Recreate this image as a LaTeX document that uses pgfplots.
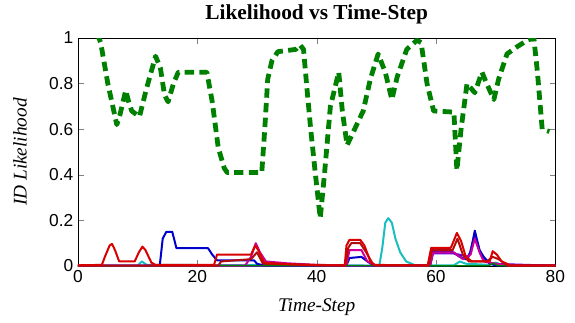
\documentclass[border=0pt]{standalone}
\usepackage{pgfplots}
\pgfplotsset{compat=1.18}
\usepackage{fontspec}
\setmainfont{Liberation Serif}
\newfontfamily\tickfont{Liberation Sans}
\definecolor{mgreen}{rgb}{0,0.5,0}
\definecolor{mred}{rgb}{0.85,0,0}
\definecolor{dred}{rgb}{0.7,0.05,0.05}
\definecolor{mblue}{rgb}{0,0,0.8}
\definecolor{mcyan}{rgb}{0.1,0.75,0.75}
\definecolor{mmag}{rgb}{0.8,0,0.6}
\definecolor{mpurp}{rgb}{0.45,0,0.85}
\begin{document}
\begin{tikzpicture}
\begin{axis}[
  name=ax,
  scale only axis,
  width=358pt, height=171pt,
  xmin=0, xmax=80, ymin=0, ymax=1,
  xtick={0,20,40,60,80},
  ytick={0,0.2,0.4,0.6,0.8,1},
  tick align=inside,
  minor tick num=0,
  /pgf/number format/assume math mode=true,
  ticklabel style={font=\tickfont\fontsize{13}{13}\selectfont},
  title={Likelihood vs Time-Step},
  title style={font=\bfseries\fontsize{16}{16}\selectfont, yshift=1pt},
  xlabel={Time-Step},
  ylabel={ID Likelihood},
  label style={font=\itshape\fontsize{14.5}{14.5}\selectfont},
  xlabel style={yshift=-5pt},
  ylabel style={yshift=10pt},
  every axis plot/.append style={line width=1.5pt, line join=round},
  axis line style={line width=0.6pt},
]
\addplot[mgreen, line width=3.6pt, dash pattern=on 7pt off 4pt] coordinates {
(3.2,1.02)(3.8,0.98)(5,0.8)(6.5,0.62)(7,0.66)(8,0.77)(8.5,0.72)(9,0.68)(10.3,0.655)(11.5,0.78)(13,0.92)(13.8,0.87)(14.5,0.75)(15.1,0.72)(16,0.8)(16.8,0.85)(21.6,0.85)(22.5,0.72)(23.5,0.52)(24.5,0.43)(25,0.41)(30.8,0.41)(31.3,0.6)(31.8,0.82)(32.5,0.9)(33.5,0.94)(36.5,0.95)(37.2,0.97)(37.8,0.95)(38.3,0.8)(39,0.6)(39.8,0.4)(40.6,0.21)(41.3,0.4)(42.3,0.7)(43.7,0.85)(44.3,0.68)(45.1,0.53)(46,0.58)(47.8,0.68)(49,0.82)(50.3,0.93)(51.5,0.85)(52.6,0.73)(53.5,0.83)(55.1,0.95)(56.8,0.99)(57.5,0.98)(58.5,0.8)(59.6,0.68)(63,0.675)(63.5,0.42)(64.2,0.6)(65.2,0.8)(66.5,0.76)(67.7,0.85)(68.5,0.8)(69.7,0.73)(70.5,0.82)(71.9,0.93)(73.5,0.96)(75.3,0.99)(76.4,1.0)(77,0.85)(77.8,0.6)(79,0.59)
};
\addplot[mcyan] coordinates {
(0,0.002)(10,0.002)(10.7,0.02)(11.5,0.005)(50.5,0.002)(51,0.08)(51.5,0.19)(52,0.21)(52.6,0.19)(53.2,0.12)(54,0.06)(55,0.02)(56.5,0.003)(63,0.003)(64,0.02)(65,0.01)(69,0.005)(70,0.015)(71,0.005)(80,0.002)
};
\addplot[mpurp] coordinates {
(0,0.001)(59,0.001)(59.5,0.055)(63,0.055)(65.5,0.04)(66.5,0.14)(67.5,0.05)(69,0.01)(80,0.001)
};
\addplot[mblue] coordinates {
(0,0.002)(13.7,0.002)(14.2,0.12)(14.8,0.15)(15.8,0.15)(16.5,0.078)(21.8,0.078)(22.5,0.05)(23.3,0.025)(29.5,0.025)(30,0.01)(31,0.003)(45,0.003)(45.5,0.035)(47.5,0.04)(48.5,0.02)(49.5,0.003)(59,0.003)(59.5,0.065)(62.5,0.065)(64,0.04)(65,0.03)(65.8,0.06)(66.5,0.155)(67.3,0.07)(68,0.04)(69,0.01)(70,0.003)(80,0.003)
};
\addplot[mmag] coordinates {
(0,0.002)(28,0.002)(29,0.04)(29.8,0.1)(30.5,0.06)(31.5,0.02)(35,0.012)(40,0.005)(45,0.003)(45.5,0.07)(47.5,0.07)(48.5,0.02)(50,0.002)(59,0.002)(59.5,0.06)(63,0.06)(64.5,0.03)(65.8,0.05)(66.5,0.12)(67.3,0.06)(68,0.02)(70,0.01)(72,0.002)(80,0.002)
};
\addplot[mgreen, line width=1pt] coordinates {
(0,0.001)(68.8,0.001)(69.6,0.012)(70.4,0.001)(80,0.001)
};
\addplot[dred] coordinates {
(0,0.002)(23.5,0.002)(24,0.02)(29,0.03)(30,0.06)(31,0.01)(44.8,0.002)(45.3,0.08)(45.8,0.1)(47.3,0.1)(48.3,0.06)(49.5,0.005)(58.8,0.002)(59.3,0.07)(62.8,0.07)(63.6,0.12)(64.5,0.05)(65.5,0.02)(68.5,0.02)(69.5,0.04)(70.5,0.03)(72,0.002)(80,0.002)
};
\addplot[mred] coordinates {
(0,0.003)(4,0.005)(4.5,0.04)(5.3,0.09)(5.7,0.097)(6.2,0.07)(6.9,0.02)(7.5,0.02)(9.5,0.02)(10.2,0.06)(10.8,0.085)(11.3,0.07)(12.3,0.015)(13,0.005)(22.8,0.005)(23.3,0.05)(29,0.05)(29.7,0.09)(30.2,0.07)(31.2,0.015)(35,0.008)(40,0.003)(44.7,0.003)(45,0.09)(45.5,0.115)(47.3,0.115)(48,0.09)(49,0.02)(49.8,0.003)(58.6,0.003)(59.2,0.08)(62.5,0.08)(63.5,0.145)(64.2,0.11)(65,0.04)(66,0.02)(69,0.02)(69.5,0.065)(70.2,0.05)(71,0.02)(72.5,0.003)(80,0.003)
};
\end{axis}
\useasboundingbox ([xshift=-58.5pt,yshift=-42pt]ax.south west) rectangle ([xshift=372.75pt,yshift=199.5pt]ax.south west);
\end{tikzpicture}
\end{document}
